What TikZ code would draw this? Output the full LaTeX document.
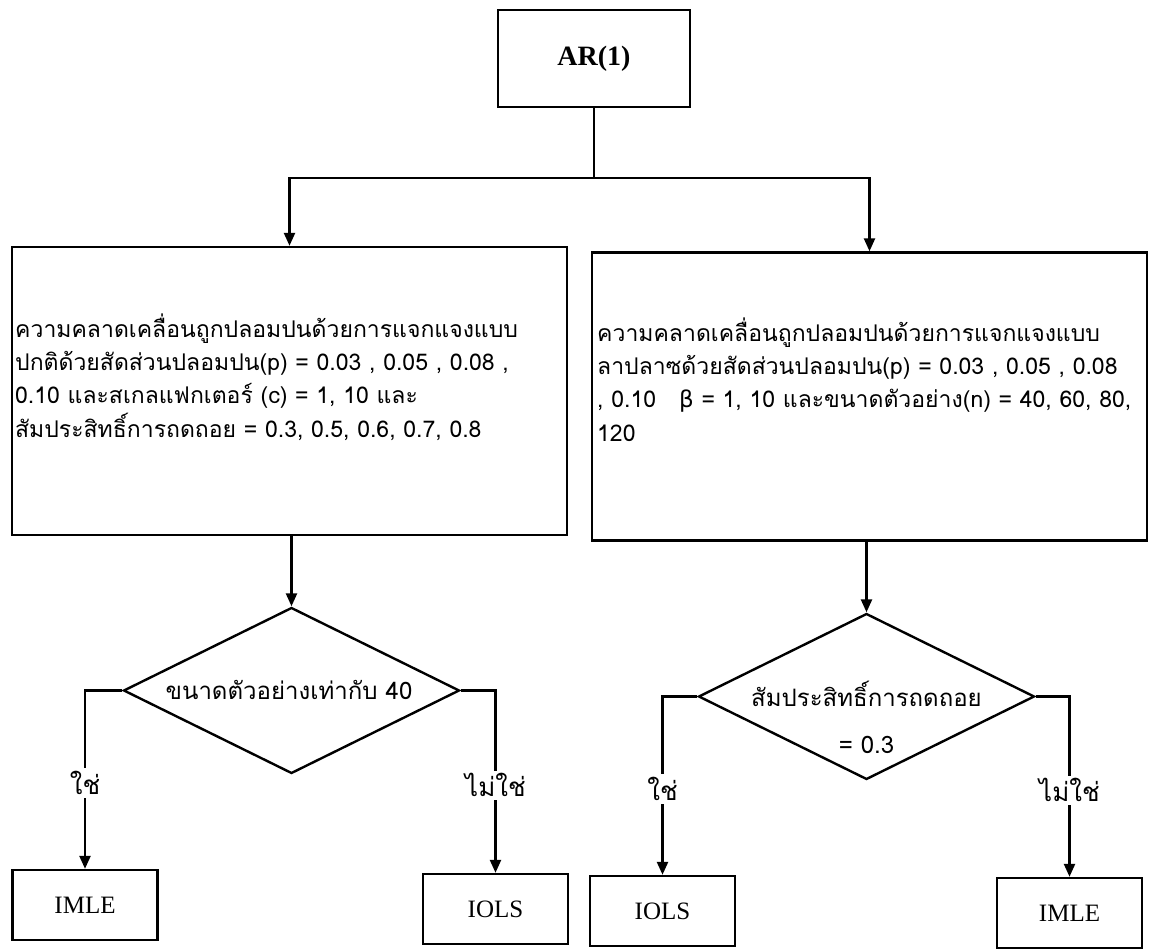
\documentclass[tikz,border=0pt]{standalone}
\usepackage{fontspec}
\setmainfont{Liberation Serif}
\newfontfamily\thai[Script=Thai]{Loma}
\newfontfamily\grk{DejaVu Sans}
\usetikzlibrary{arrows.meta,shapes.geometric}
\begin{document}
\begin{tikzpicture}[x=1pt,y=-1pt,
  line width=2.4pt,
  arr/.style={line width=2.4pt,-{Triangle[length=13pt,width=11pt]}},
  plain/.style={line width=2.4pt},
  box/.style={draw,rectangle,line width=2.4pt,inner sep=0pt},
  bigbox/.style={draw,rectangle,line width=2.4pt,inner sep=0pt,minimum width=555pt,minimum height=288pt},
  dia/.style={draw,diamond,line width=2.4pt,inner sep=0pt,minimum width=336pt,minimum height=166pt,shape aspect=2.02},
  endbox/.style={draw,rectangle,line width=2.4pt,inner sep=0pt,minimum width=145pt,minimum height=70pt,font=\fontsize{25}{28}\selectfont},
  bodytext/.style={inner sep=0pt,align=left,font=\thai\fontsize{23}{33.3}\selectfont},
  yn/.style={fill=white,inner sep=3pt,font=\thai\fontsize{26}{30}\selectfont},
  diatext/.style={inner sep=0pt,align=center,font=\thai\fontsize{24}{47}\selectfont}
]
\useasboundingbox (0,0) rectangle (1156,949);
\fill[white] (0,0) rectangle (1156,949);

% top box
\node[box,minimum width=192pt,minimum height=97pt,font=\bfseries\fontsize{28}{32}\selectfont] (AR) at (594,58.5) {AR(1)};
\coordinate (bar) at (594,178);

% big boxes
\node[bigbox] (L) at (289.5,391) {};
\node[bigbox] (R) at (869.5,396.5) {};

\node[bodytext,anchor=base west] (Lt) at (14,437) {ความคลาดเคลื่อนถูกปลอมปนด้วยการแจกแจงแบบ\\
ปกติด้วยสัดส่วนปลอมปน(p) = 0.03 , 0.05 , 0.08 ,\\
0.10 และสเกลแฟกเตอร์ (c) = 1, 10 และ\\
สัมประสิทธิ์การถดถอย = 0.3, 0.5, 0.6, 0.7, 0.8};

\node[bodytext,anchor=base west] (Rt) at (596,441) {ความคลาดเคลื่อนถูกปลอมปนด้วยการแจกแจงแบบ\\
ลาปลาซด้วยสัดส่วนปลอมปน(p) = 0.03 , 0.05 , 0.08\\
, 0.10\quad {\grk β} = 1, 10 และขนาดตัวอย่าง(n) = 40, 60, 80,\\
120};

% diamonds
\node[dia] (DL) at (291.5,690.5) {};
\node[diatext] (DLt) at (289,690) {ขนาดตัวอย่างเท่ากับ 40};
\node[dia] (DR) at (866.5,696.5) {};
\node[diatext,anchor=north] (DRt) at (866.5,680) {สัมประสิทธิ์การถดถอย\\= 0.3};

% end boxes
\node[endbox] (E1) at (85,905) {IMLE};
\node[endbox] (E2) at (495.5,909) {IOLS};
\node[endbox] (E3) at (662.5,911) {IOLS};
\node[endbox] (E4) at (1069.5,913) {IMLE};

% connectors
\draw[plain] (AR.south) -- (bar);
\draw[arr] (bar) -| (L.north);
\draw[arr] (bar) -| (R.north);
\draw[arr] (L.south -| DL.north) -- (DL.north);
\draw[arr] (R.south -| DR.north) -- (DR.north);

\draw[arr] (DL.west) -| (E1.north) node[yn,pos=0.76] {ใช่};
\draw[arr] (DL.east) -| (E2.north) node[yn,pos=0.76] {ไม่ใช่};
\draw[arr] (DR.west) -| (E3.north) node[yn,pos=0.76] {ใช่};
\draw[arr] (DR.east) -| (E4.north) node[yn,pos=0.76] {ไม่ใช่};
\end{tikzpicture}
\end{document}
